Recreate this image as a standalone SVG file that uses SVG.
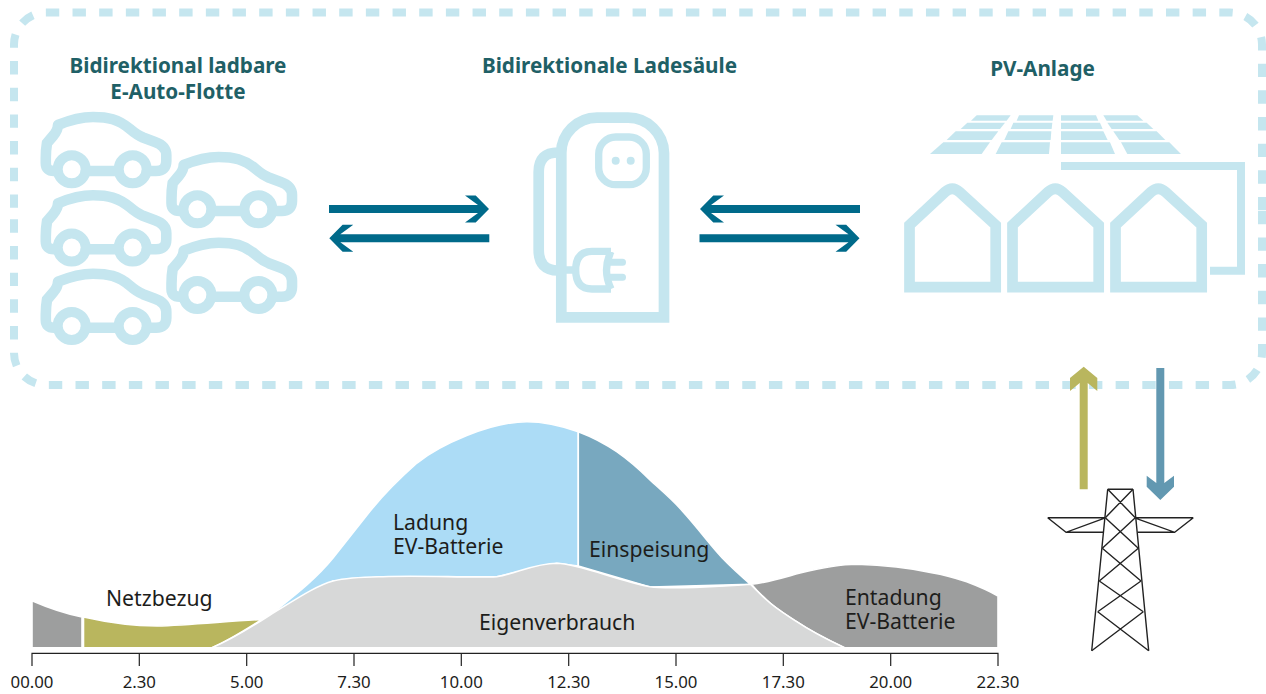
<svg xmlns="http://www.w3.org/2000/svg" width="1266" height="694" viewBox="0 0 1266 694">
<style>
.ic{fill:none;stroke:#c5e6ef}
.pv{fill:#c5e6ef;stroke:none}
.frame{fill:none;stroke:#c5e6ef;stroke-width:8;stroke-dasharray:13.4 13.27}
.flow{fill:#006a8a}
.pyl{stroke:#222;stroke-width:1.4;fill:none}
.area{stroke:#fff;stroke-width:1.6}
text{font-family:"Noto Sans","Liberation Sans",sans-serif;fill:#1d1d1b}
.h{font-size:20.7px;font-weight:700;fill:#1f6066;text-anchor:middle}
.l{font-size:21.2px}
.t{font-size:16.8px;text-anchor:middle}
</style>
<defs>
<g id="car" class="ic">
<circle cx="71.7" cy="169.3" r="14" stroke-width="10"/><circle cx="132.7" cy="169.3" r="14" stroke-width="10"/>
<path stroke-width="10.600" stroke-linecap="round" d="M86,171H118M147,171H156Q166.300,171 166.300,161V155Q166.300,146 155,142L143,137.500Q137,135 130,129C118,119 108,117 93,117C80,117 70,120 58,125M58,125Q58,130 53,136L47,143Q45.800,150 45.800,158V163Q45.800,171 54,171"/>
</g>
<path id="house" d="M909.5,287.2V225L945,192Q952.3,185.500 959.500,192L995.700,225V287.200Z"/>
<polygon id="arrow" class="flow" points="0,-4 149,-4 136,-13.500 146.700,-13.500 160,0 146.700,13.500 136,13.500 149,4 0,4"/>
</defs>
<g id="frame">
<path class="frame" stroke-dashoffset="24.5" d="M14,210V44.500A32,32 0 0 1 46,12.500H1230A32,32 0 0 1 1262,44.500V210"/>
<path class="frame" stroke-dashoffset="25.9" d="M1262,210V353A32,32 0 0 1 1230,385H46A32,32 0 0 1 14,353V210"/>
</g>
<g id="fleet">
<text class="h" x="178" y="73"><tspan x="178">Bidirektional ladbare</tspan><tspan x="178" dy="26">E-Auto-Flotte</tspan></text>
<use href="#car"/>
<use href="#car" transform="translate(125.700 40)"/>
<use href="#car" transform="translate(0 78.300)"/>
<use href="#car" transform="translate(125.700 125.700)"/>
<use href="#car" transform="translate(0 156.700)"/>
</g>
<g id="charger">
<text class="h" x="609.500" y="73">Bidirektionale Ladesäule</text>
<path class="ic" stroke-width="10.700" d="M561.300,317.400V153A36,35 0 0 1 597,117.700H628A36,36 0 0 1 664,153V317.400Z"/>
<rect class="ic" stroke-width="7.300" x="598.700" y="137" width="47.600" height="47.700" rx="17"/>
<circle class="pv" cx="615.700" cy="160.700" r="4"/><circle class="pv" cx="630.700" cy="160.700" r="4"/>
<path class="ic" stroke-width="10.700" d="M558,152.500Q538.700,152.500 538.700,172V250Q538.700,270.500 558,270.500"/>
<path class="ic" stroke-width="7.300" d="M565,270H576M611,251.300H592Q575.700,251.300 575.700,270Q575.700,289 592,289H611M611,251.300Q602,270 611,289"/>
<path class="ic" stroke-width="7" stroke-linecap="round" d="M610,262.300H622.500M610,277.300H622.500"/>
</g>
<g id="pv">
<text class="h" x="1042.500" y="76">PV-Anlage</text>
<g transform="translate(890 105) scale(.3333)" class="pv">
<polygon points="120,147 160,112 300,112 275,147"/><polygon points="317,147 335,112 480,112 477,147"/><polygon points="513,147 513,112 660,112 675,147"/><polygon points="712,147 693,112 838,112 873,147"/>
<polygon points="170,105 197,79 325,79 305,105"/><polygon points="343,105 355,79 484,79 482,105"/><polygon points="513,105 513,79 640,79 653,105"/><polygon points="688,105 670,79 800,79 826,105"/>
<polygon points="212,72 232,53 345,53 330,72"/><polygon points="362,72 370,53 487,53 485,72"/><polygon points="513,72 513,53 630,53 638,72"/><polygon points="665,72 652,53 770,53 790,72"/>
<polygon points="243,47 260,31 362,31 350,47"/><polygon points="380,47 387,31 490,31 488,47"/><polygon points="513,47 513,31 618,31 625,47"/><polygon points="650,47 640,31 742,31 760,47"/>
</g>
<use href="#house" class="ic" stroke-width="10.700"/>
<use href="#house" class="ic" stroke-width="10.700" transform="translate(103 0)"/>
<use href="#house" class="ic" stroke-width="10.700" transform="translate(206 0)"/>
<path class="ic" stroke-width="8" d="M1061,166H1241V270.700H1210"/>
</g>
<g id="pylon" class="pyl">
<path d="M1107.700,489.300H1133M1107.700,489.300L1091.700,650.700M1133,489.300L1148.700,650.700"/>
<path d="M1047.700,517.700H1105M1135.300,517.700H1193.300M1047.700,517.700L1066,532.300L1104,518.300M1066,532.300H1103M1193.300,517.700L1174.700,532.300L1136,518.300M1174.700,532.300H1137.700"/>
<path d="M1107.700,489.300L1135.300,517.700M1133,489.300L1105.300,517.700M1105.300,517.700L1138.300,548.300M1135.300,517.700L1102.300,548.300M1102.300,548.300L1141,581M1138.300,548.300L1099.300,581M1099.300,581L1143.300,611.700M1141,581L1097.700,611.700M1097.700,611.700L1148.700,650.700M1143.300,611.700L1091.700,650.700"/>
</g>
<g id="chart">
<path class="area" fill="#9d9e9e" d="M32,600.700Q58,612 82,617V647.700H32Z"/>
<path class="area" fill="#b9b65e" d="M83.500,617C110,623 135,626 157,626C190,625 230,621 262,619.500C245,630 230,640 212,647.700H83.500Z"/>
<path class="area" fill="#acdcf6" d="M270,615C295,595 315,580 333,558C345,543 355,530 367,515C385,492 400,478 417,463C440,445 490,421.700 527,421.700C545,421.700 562,426 578.300,431.700V566L556.700,563.300L496.700,576.700L383,576.700L333,581Z"/>
<path class="area" fill="#78a8bf" d="M578.300,431.700C595,438 607,445 616.700,451.700C630,461 640,470 650,480C662,491 673,500 683,511.700C695,525 705,538 716.700,551.700C727,564 738,573 750.500,584.300L650,587L578.300,566Z"/>
<path class="area" fill="#9d9e9e" d="M751.500,584.300C770,582 785,577 800,573C820,568 838,564.300 857,564.300C885,565 910,568 933,573C945,575 955,578 966.700,581.700C978,586 988,590 998,596V647.700H844.500C828,640 812,632 796.700,621.700C785,614 775,608 766.700,600C761,595 756,590 751.500,584.300Z"/>
<path class="area" fill="#d7d8d8" d="M212,647.700C230,640 250,628 270,615C295,600 315,586 333,581C350,577 370,577 383,576.700C420,575 470,578 496.700,576.700C515,574 535,563.300 556.700,563.300C580,564 615,580 650,586.700C665,589 720,587 750.500,584.300C756,590 761,595 766.700,600C775,608 785,614 796.700,621.700C812,632 828,640 844.500,647.700Z"/>
<path d="M32,666V653.300H998V666M139.300,653.300V666M246.700,653.300V666M354,653.300V666M461.300,653.300V666M568.700,653.300V666M676,653.300V666M783.300,653.300V666M890.700,653.300V666" fill="none" stroke="#222" stroke-width="1.200"/>
<text class="t" x="32" y="688">00.00</text><text class="t" x="139.300" y="688">2.30</text><text class="t" x="246.700" y="688">5.00</text><text class="t" x="354" y="688">7.30</text><text class="t" x="461.300" y="688">10.00</text><text class="t" x="568.700" y="688">12.30</text><text class="t" x="676" y="688">15.00</text><text class="t" x="783.300" y="688">17.30</text><text class="t" x="890.700" y="688">20.00</text><text class="t" x="998" y="688">22.30</text>
<text class="l" x="106" y="605.500">Netzbezug</text>
<text class="l" y="530"><tspan x="393">Ladung</tspan><tspan x="393" dy="23.500">EV-Batterie</tspan></text>
<text class="l" x="589" y="556.500">Einspeisung</text>
<text class="l" x="479" y="630">Eigenverbrauch</text>
<text class="l" y="605"><tspan x="845">Entadung</tspan><tspan x="845" dy="23.500">EV-Batterie</tspan></text>
</g>
<g id="connectors">
<use href="#arrow" transform="translate(329 209)"/>
<use href="#arrow" transform="translate(489.300 238.300) scale(-1 1)"/>
<use href="#arrow" transform="translate(860 209) scale(-1 1)"/>
<use href="#arrow" transform="translate(699.500 238.300)"/>
<polygon fill="#b9b65e" points="1083.700,366.700 1097.300,378 1097.300,391 1087.700,383 1087.700,489.300 1079.700,489.300 1079.700,383 1070,391 1070,378"/>
<polygon fill="#6298b1" points="1156.300,368 1164.300,368 1164.300,483 1174,475.700 1174,486.700 1160.300,500 1146.700,486.700 1146.700,475.700 1156.300,483"/>
</g>
</svg>
